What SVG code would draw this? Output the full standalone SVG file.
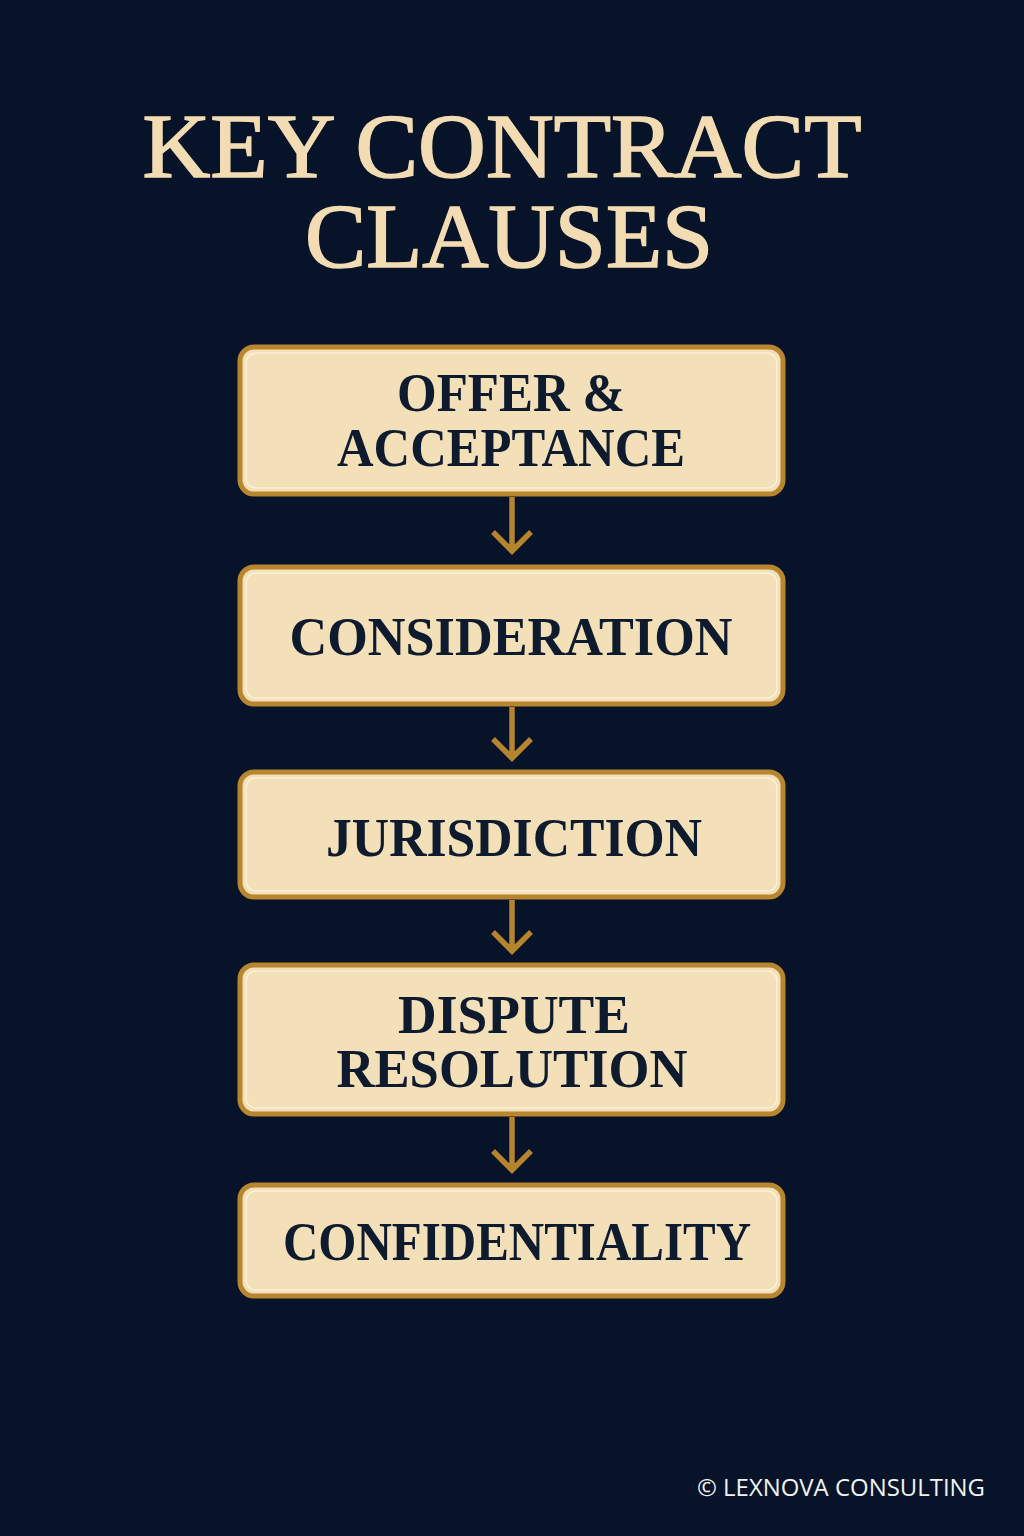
<svg xmlns="http://www.w3.org/2000/svg" width="1024" height="1536" viewBox="0 0 1024 1536">
<defs>
<style>
.bg{fill:#061328}
.box{fill:#f3dfb8;stroke:#b7862f;stroke-width:5}
.inner{fill:none;stroke:#fbf0d8;stroke-width:1.5}
.lbl{font-family:"Liberation Serif","DejaVu Serif",serif;font-weight:bold;font-size:54px;fill:#0e1a2d;text-anchor:middle}
.title{font-family:"Liberation Serif","DejaVu Serif",serif;font-size:92px;fill:#f3dcb3;stroke:#f3dcb3;stroke-width:1.6;text-anchor:middle}
.conn{stroke:#b5842e;stroke-width:5.5;fill:none;stroke-linecap:butt;stroke-linejoin:miter}
.copy{font-family:"Open Sans","DejaVu Sans",sans-serif;font-size:23px;fill:#f2f2f2}
</style>
</defs>
<rect class="bg" x="0" y="0" width="1024" height="1536"/>
<g id="title">
<text class="title" x="502" y="177" textLength="719" lengthAdjust="spacingAndGlyphs">KEY CONTRACT</text>
<text class="title" x="509" y="267" textLength="408" lengthAdjust="spacingAndGlyphs">CLAUSES</text>
</g>
<g id="connectors">
<path class="conn" d="M512 497 V549 M493 532 L512 551 L531 532"/>
<path class="conn" d="M512 707 V756 M493 739 L512 758 L531 739"/>
<path class="conn" d="M512 900 V949 M493 932 L512 951 L531 932"/>
<path class="conn" d="M512 1117 V1168 M493 1151 L512 1170 L531 1151"/>
</g>
<g id="node1">
<rect class="box" x="240" y="347" width="543" height="147" rx="14"/>
<rect class="inner" x="246" y="353" width="531" height="135" rx="10"/>
<text class="lbl" x="511" y="411" textLength="228" lengthAdjust="spacingAndGlyphs">OFFER &amp;</text>
<text class="lbl" x="511" y="466" textLength="348" lengthAdjust="spacingAndGlyphs">ACCEPTANCE</text>
</g>
<g id="node2">
<rect class="box" x="240" y="567" width="543" height="137" rx="14"/>
<rect class="inner" x="246" y="573" width="531" height="125" rx="10"/>
<text class="lbl" x="511" y="655" textLength="443" lengthAdjust="spacingAndGlyphs">CONSIDERATION</text>
</g>
<g id="node3">
<rect class="box" x="240" y="772" width="543" height="125" rx="14"/>
<rect class="inner" x="246" y="778" width="531" height="113" rx="10"/>
<text class="lbl" x="514" y="856" textLength="376" lengthAdjust="spacingAndGlyphs">JURISDICTION</text>
</g>
<g id="node4">
<rect class="box" x="240" y="965" width="543" height="149" rx="14"/>
<rect class="inner" x="246" y="971" width="531" height="137" rx="10"/>
<text class="lbl" x="514" y="1033" textLength="232" lengthAdjust="spacingAndGlyphs">DISPUTE</text>
<text class="lbl" x="512" y="1087" textLength="351" lengthAdjust="spacingAndGlyphs">RESOLUTION</text>
</g>
<g id="node5">
<rect class="box" x="240" y="1185" width="543" height="111" rx="14"/>
<rect class="inner" x="246" y="1191" width="531" height="99" rx="10"/>
<text class="lbl" x="517" y="1260" textLength="468" lengthAdjust="spacingAndGlyphs">CONFIDENTIALITY</text>
</g>
<g id="footer">
<text class="copy" x="697" y="1496" textLength="288" lengthAdjust="spacingAndGlyphs">© LEXNOVA CONSULTING</text>
</g>
</svg>
